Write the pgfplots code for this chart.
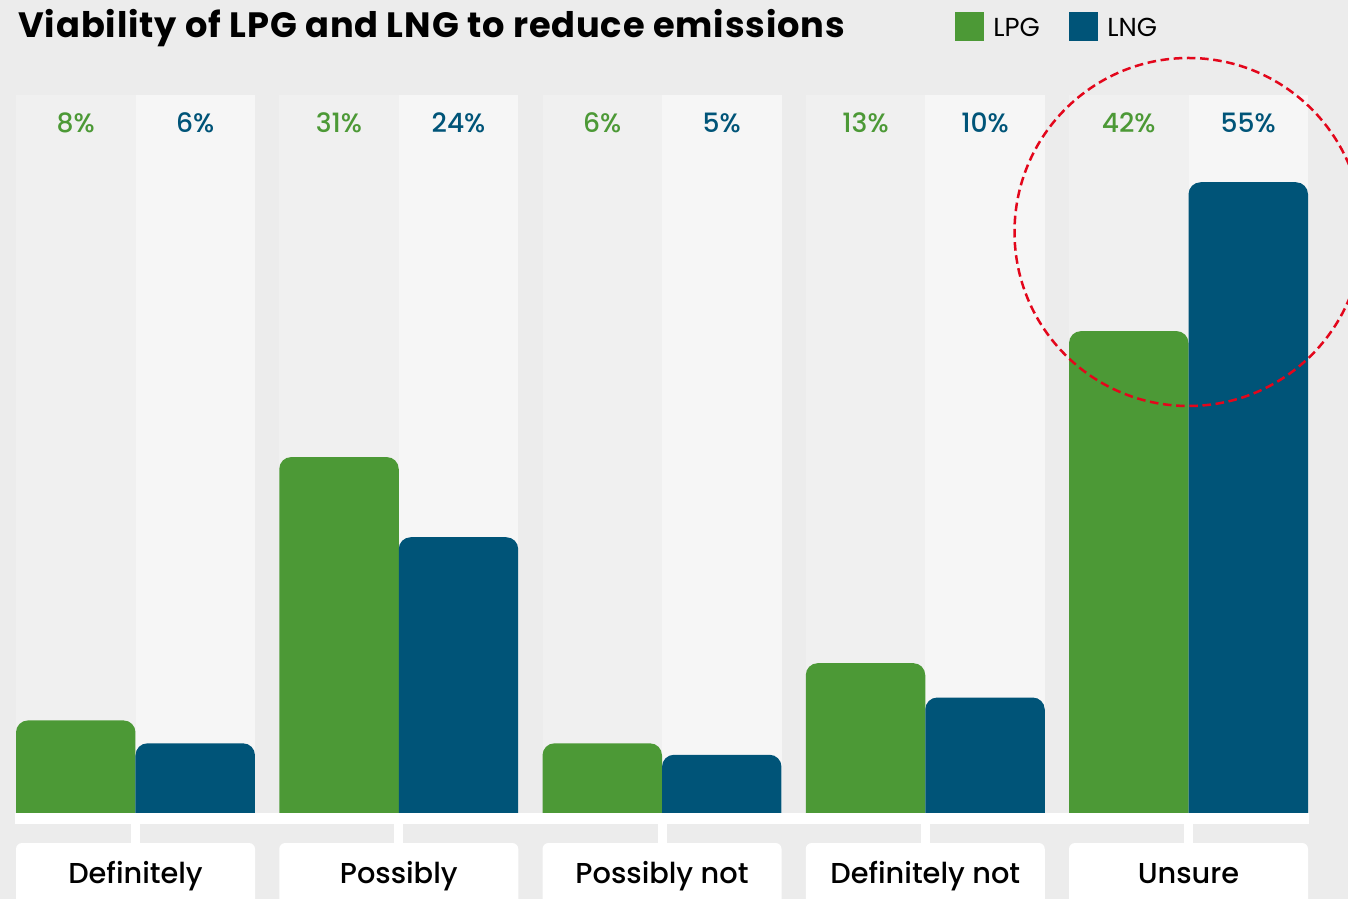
\documentclass[border=0pt]{standalone}
\usepackage{pgfplots}
\pgfplotsset{compat=1.18}
\usepackage{fontspec}
\setmainfont{Poppins}
\newfontfamily\medfont{Poppins Medium}
\definecolor{bg}{HTML}{ECECEC}
\definecolor{colA}{HTML}{F0F0F0}
\definecolor{colB}{HTML}{F6F6F6}
\definecolor{lpg}{HTML}{4C9936}
\definecolor{lng}{HTML}{005478}
\definecolor{circ}{HTML}{E3061B}
\begin{document}
\begin{tikzpicture}
\path[use as bounding box] (0,0) rectangle (674pt,449.5pt);
\begin{scope}[x=0.5pt,y=-0.5pt,yshift=449.5pt]
\fill[bg] (0,0) rectangle (1348,899);
\foreach \L in {16,279.25,542.5,805.75,1069}{
  \fill[colA] (\L,95) rectangle ({\L+119.5},830);
  \fill[colB] ({\L+119.5},95) rectangle ({\L+239},830);
}
\end{scope}
\begin{axis}[at={(0,0)}, anchor=south west, scale only axis,
  width=674pt, height=449.5pt,
  xmin=-0.5147, xmax=4.6059, ymin=-5.598, ymax=72.917,
  hide axis, ybar, bar width=0.4539, clip=false,
  y filter/.expression={y+2}]
\addplot[fill=lpg, draw=none, bar shift=-0.22695, rounded corners=6pt]
  coordinates {(0,8) (1,31) (2,6) (3,13) (4,42)};
\addplot[fill=lng, draw=none, bar shift=0.22695, rounded corners=6pt]
  coordinates {(0,6) (1,24) (2,5) (3,10) (4,55)};
\end{axis}
\begin{scope}[x=0.5pt,y=-0.5pt,yshift=449.5pt]
\fill[white] (15,812.6) rectangle (1309,824);
\fill[bg] (15,824) rectangle (1309,843);
\foreach \L/\lab in {16/Definitely,279.25/Possibly,542.5/Possibly not,805.75/Definitely not,1069/Unsure}{
  \fill[white] ({\L+115},823) rectangle ({\L+124},844);
  \fill[white, rounded corners=3pt] (\L,843) rectangle ({\L+239},910);
  \node[anchor=base, inner sep=0, font=\medfont\fontsize{14.4}{16}\selectfont] at ({\L+119.5},883) {\lab};
}
\foreach \c/\t in {75.75/8,339/31,602.25/6,865.5/13,1128.75/42}{
  \node[anchor=base, inner sep=0, text=lpg, font=\medfont\fontsize{13.3}{15}\selectfont] at (\c,133) {\t\%};
}
\foreach \c/\t in {195.25/6,458.5/24,721.75/5,985/10,1248.25/55}{
  \node[anchor=base, inner sep=0, text=lng, font=\medfont\fontsize{13.3}{15}\selectfont] at (\c,133) {\t\%};
}
\node[anchor=base west, inner sep=0, font=\bfseries\fontsize{17.6}{20}\selectfont\addfontfeatures{LetterSpace=2.5}] at (18,37.3) {Viability of LPG and LNG to reduce emissions};
\fill[lpg] (955,12) rectangle (984,41);
\node[anchor=base west, inner sep=0, font=\fontsize{13}{16}\selectfont] at (993,37) {LPG};
\fill[lng] (1069,12) rectangle (1098,41);
\node[anchor=base west, inner sep=0, font=\fontsize{13}{16}\selectfont] at (1107,37) {LNG};
\draw[circ, line width=1.25pt, dash pattern=on 4.3pt off 2.3pt] (1188.5,232) circle[radius=174];
\end{scope}
\end{tikzpicture}
\end{document}
